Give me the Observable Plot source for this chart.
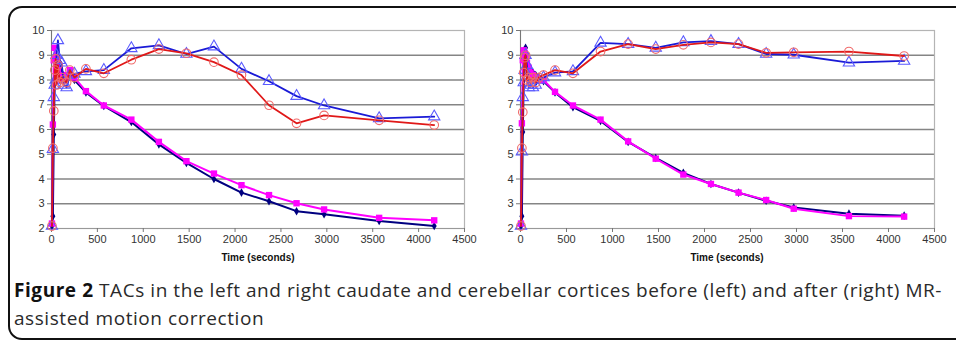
<!DOCTYPE html>
<html>
<head>
<meta charset="utf-8">
<script src="https://cdn.jsdelivr.net/npm/d3@7"></script>
<script src="https://cdn.jsdelivr.net/npm/@observablehq/plot@0.6"></script>
<style>
  html, body { margin: 0; padding: 0; background: #fff; width: 956px; height: 340px; overflow: hidden; }
  #frame { position: absolute; left: 8px; top: 6px; width: 1000px; height: 334px; border: 2px solid #111; border-radius: 14px; box-sizing: border-box; }
  .panel { position: absolute; top: 0; }
  .xlab { position: absolute; top: 252px; font: bold 10px "Liberation Sans", Arial, sans-serif; color: #111; transform: translateX(-50%); white-space: nowrap; }
  #caption { position: absolute; left: 14px; top: 276px; font-family: "Open Sans", sans-serif; font-size: 19px; line-height: 28px; color: #2a2a2a; white-space: nowrap; }
  #caption b { font-weight: 700; color: #111; }
  #caption span { display: inline-block; }
</style>
</head>
<body>
<div id="frame"></div>
<div id="left" class="panel" style="left:0px"></div>
<div id="right" class="panel" style="left:470px"></div>
<div class="xlab" style="left:258px">Time (seconds)</div>
<div class="xlab" style="left:727px">Time (seconds)</div>
<div id="caption"><span id="cap1"><b>Figure 2</b> TACs in the left and right caudate and cerebellar cortices before (left) and after (right) MR-</span><br><span id="cap2">assisted motion correction</span></div>
<script>
const times = [5, 15, 25, 35, 45, 55, 70, 90, 110, 135, 165, 200, 250, 375, 570, 870, 1170, 1470, 1770, 2070, 2370, 2670, 2970, 3570, 4170];
const xTicks = [0, 500, 1000, 1500, 2000, 2500, 3000, 3500, 4000, 4500];
const yTicks = [2, 3, 4, 5, 6, 7, 8, 9, 10];

// Before motion correction (left panel)
const leftBlue    = [2.1, 5.2, 7.3, 7.8, 8.0, 9.0, 9.6, 8.8, 8.7, 7.8, 7.7, 8.2, 8.25, 8.35, 8.4, 9.28, 9.4, 9.05, 9.35, 8.45, 7.95, 7.35, 6.97, 6.45, 6.52];
const leftRed     = [2.1, 5.25, 6.75, 8.4, 8.85, 7.8, 8.6, 7.9, 8.1, 8.0, 7.9, 8.4, 8.1, 8.45, 8.27, 8.82, 9.25, 9.08, 8.72, 8.2, 6.98, 6.25, 6.57, 6.37, 6.18];
const leftNavy    = [2.1, 2.5, 5.8, 8.0, 8.8, 8.6, 8.7, 8.5, 8.3, 8.1, 8.0, 8.25, 8.0, 7.5, 6.95, 6.3, 5.4, 4.65, 4.0, 3.45, 3.1, 2.7, 2.58, 2.3, 2.1];
const leftMagenta = [2.2, 6.2, 8.8, 9.3, 8.9, 8.6, 8.4, 8.2, 8.0, 8.1, 8.2, 8.4, 8.1, 7.55, 6.97, 6.4, 5.5, 4.72, 4.22, 3.75, 3.35, 3.02, 2.77, 2.43, 2.33];

// After motion correction (right panel)
const rightBlue    = [2.1, 5.1, 7.3, 7.9, 8.4, 9.0, 8.6, 7.7, 7.8, 7.7, 7.8, 8.0, 8.1, 8.3, 8.35, 9.5, 9.45, 9.3, 9.52, 9.57, 9.45, 9.05, 9.02, 8.7, 8.77];
const rightRed     = [2.1, 5.25, 6.7, 8.3, 8.9, 9.0, 8.0, 8.1, 7.9, 8.1, 7.9, 8.1, 8.2, 8.4, 8.27, 9.15, 9.45, 9.25, 9.42, 9.52, 9.45, 9.1, 9.12, 9.15, 8.97];
const rightNavy    = [2.1, 2.5, 5.9, 8.0, 9.0, 9.3, 8.8, 8.6, 8.4, 8.3, 8.2, 8.1, 7.95, 7.5, 6.9, 6.35, 5.5, 4.85, 4.25, 3.8, 3.45, 3.12, 2.85, 2.6, 2.52];
const rightMagenta = [2.2, 6.25, 8.8, 9.2, 9.1, 9.0, 8.7, 8.5, 8.3, 8.2, 8.1, 8.0, 8.0, 7.52, 6.97, 6.4, 5.52, 4.82, 4.18, 3.8, 3.45, 3.15, 2.8, 2.5, 2.48];

function rows(vals) { return times.map((t, i) => ({t, v: vals[i]})); }

function panel(blue, red, navy, magenta, marginLeft) {
  const B = rows(blue), R = rows(red), N = rows(navy), M = rows(magenta);
  return Plot.plot({
    width: 480, height: 250,
    marginLeft, marginRight: 16, marginTop: 30, marginBottom: 22,
    x: {domain: [0, 4500]},
    y: {domain: [2, 10]},
    style: {fontFamily: "Liberation Sans, Arial, sans-serif", fontSize: "11px", color: "#333", background: "transparent"},
    marks: [
      Plot.gridY(yTicks.filter(d => d > 2 && d < 10), {stroke: "#858585", strokeOpacity: 1, strokeWidth: 1.4}),
      Plot.frame({stroke: "#b4b4b4", strokeWidth: 1.2}),
      Plot.ruleX([0], {stroke: "#777"}),
      Plot.ruleY([2], {stroke: "#999"}),
      Plot.axisX({ticks: xTicks, tickSize: 4, tickPadding: 3, tickFormat: d => String(d), label: null, stroke: "#777"}),
      Plot.axisY({ticks: yTicks, tickSize: 4, tickPadding: 3, tickFormat: d => String(d), label: null, stroke: "#777"}),
      Plot.line(N, {x: "t", y: "v", stroke: "#000080", strokeWidth: 2}),
      Plot.dot(N, {x: "t", y: "v", symbol: "diamond", r: 2.6, fill: "#000080"}),
      Plot.line(M, {x: "t", y: "v", stroke: "#ff00ff", strokeWidth: 2}),
      Plot.dot(M, {x: "t", y: "v", symbol: "square", r: 3.6, fill: "#ff00ff"}),
      Plot.line(B, {x: "t", y: "v", stroke: "#1a1ad6", strokeWidth: 1.8}),
      Plot.dot(B, {x: "t", y: "v", symbol: "triangle", r: 4.2, fill: "none", stroke: "#5a5aff", strokeWidth: 1.1}),
      Plot.line(R, {x: "t", y: "v", stroke: "#e01818", strokeWidth: 1.8}),
      Plot.dot(R, {x: "t", y: "v", symbol: "circle", r: 4.3, fill: "none", stroke: "#f06a6a", strokeWidth: 1.1})
    ]
  });
}

document.getElementById("left").appendChild(panel(leftBlue, leftRed, leftNavy, leftMagenta, 51));
document.getElementById("right").appendChild(panel(rightBlue, rightRed, rightNavy, rightMagenta, 50));

// stretch caption line 1 to the reference's width via letter spacing
(function fit() {
  const c1 = document.getElementById("cap1"), c2 = document.getElementById("cap2");
  const target1 = 928, w1 = c1.getBoundingClientRect().width;
  const n = c1.textContent.length;
  const ls = (target1 - w1) / n;
  c1.style.letterSpacing = ls + "px";
  c2.style.letterSpacing = ls + "px";
})();
</script>
</body>
</html>
